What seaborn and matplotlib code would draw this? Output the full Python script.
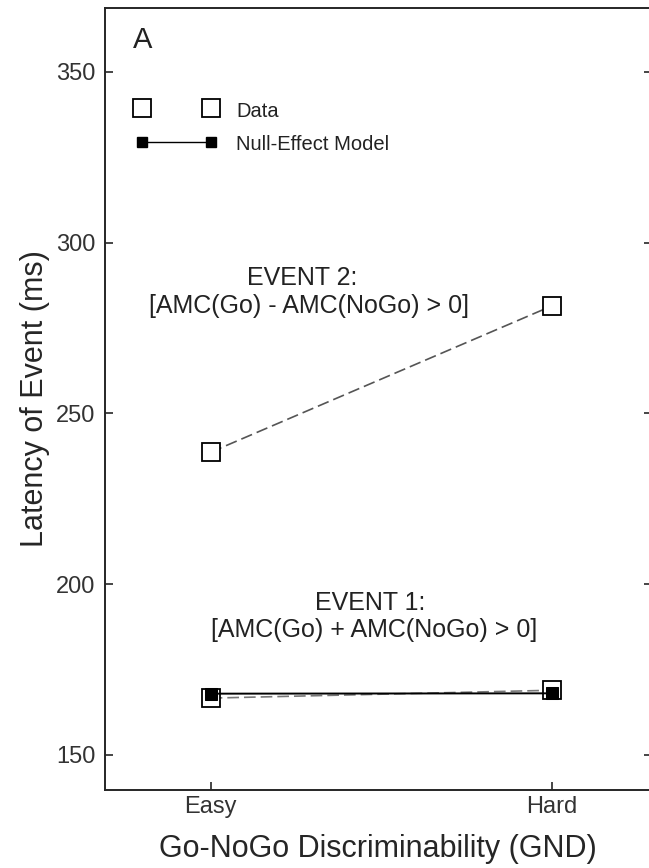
import numpy as np
import matplotlib
matplotlib.use("Agg")
import matplotlib.pyplot as plt
import seaborn as sns

# data
conditions = ["Easy", "Hard"]
event1_data = [166.6, 168.9]
event1_model = [167.9, 168.0]
event2_data = [238.6, 281.5]
legend_x = [-0.2, 0.0]
legend_data_y = [339.5, 339.5]
legend_model_y = [329.5, 329.5]

sns.set_style("ticks")
plt.rcParams['font.family'] = ['Liberation Sans', 'DejaVu Sans']

fig = plt.figure(figsize=(6.49, 8.68), dpi=100)
ax = fig.add_axes([0.162, 0.0899, 0.842, 0.9009])

xpos = np.arange(len(conditions))
open_sq = dict(marker='s', markersize=13, markerfacecolor='white',
               markeredgecolor='black', markeredgewidth=1.3)
filled_sq = dict(marker='s', markersize=8.5, markerfacecolor='black',
                 markeredgecolor='black')
dash = (0, (7, 3))

# Event 2 data (dashed)
sns.lineplot(x=xpos, y=event2_data, ax=ax, color='#555555', linewidth=1.2,
             linestyle=dash, **open_sq)

# Event 1 data (dashed) then null-effect model (solid)
sns.lineplot(x=xpos, y=event1_data, ax=ax, color='#777777', linewidth=1.2,
             linestyle=dash, **open_sq)
sns.lineplot(x=xpos, y=event1_model, ax=ax, color='black', linewidth=1.4,
             **filled_sq)

# in-plot legend
ax.plot(legend_x, legend_data_y, linestyle='none', **open_sq)
ax.plot(legend_x, legend_model_y, color='black', linewidth=1.0,
        marker='s', markersize=7, markerfacecolor='black', markeredgecolor='black')
ax.text(0.074, 336.8, "Data", fontsize=14.5, va='baseline', ha='left', color='#222222')
ax.text(0.074, 327.2, "Null-Effect Model", fontsize=14.5, va='baseline', ha='left',
        color='#222222')

ax.text(-0.229, 359.4, "A", fontsize=21, va='center', ha='left', color='#222222')

txt = dict(fontsize=18, ha='center', va='baseline', color='#222222')
ax.text(0.269, 287.6, "EVENT 2:", **txt)
ax.text(0.288, 279.4, "[AMC(Go) - AMC(NoGo) > 0]", **txt)
ax.text(0.466, 192.4, "EVENT 1:", **txt)
ax.text(0.479, 184.5, "[AMC(Go) + AMC(NoGo) > 0]", **txt)

ax.set_xlim(-0.309, 1.291)
ax.set_ylim(139.7, 368.7)
ax.set_xticks(xpos)
ax.set_xticklabels(conditions)
ax.set_yticks([150, 200, 250, 300, 350])
ax.tick_params(direction='in', length=6, width=1.2, labelsize=17,
               labelcolor='#333333', right=True)
ax.tick_params(axis='y', pad=7)
ax.tick_params(axis='x', pad=4)
for s in ax.spines.values():
    s.set_linewidth(1.4)

ax.set_xlabel("Go-NoGo Discriminability (GND)", fontsize=22, labelpad=12)
ax.set_ylabel("Latency of Event (ms)", fontsize=22, labelpad=4)

fig.savefig("out.png", dpi=100)
